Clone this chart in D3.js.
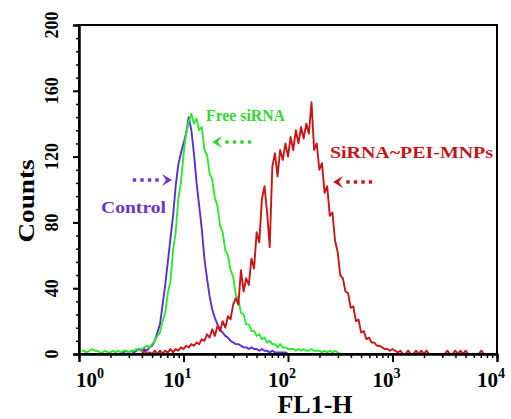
<!DOCTYPE html>
<html>
<head>
<meta charset="utf-8">
<script src="https://cdn.jsdelivr.net/npm/d3@7"></script>
<style>
  body { margin: 0; background: #fff; }
  svg text { font-family: "Liberation Serif", "Times New Roman", serif; font-weight: bold; }
</style>
</head>
<body>
<div id="chart"></div>
<script>
// histogram channels: bin i sits at 10^(i / binsPerDecade)
const binsPerDecade = 40;

// Control (purple)
const controlStart = 16;
const controlCounts = [1, 1, 2, 1, 2, 1, 2, 3, 2, 3, 2, 4, 5, 8, 13, 18, 30, 42, 56, 70,
  84, 102, 115, 122, 128, 134, 144, 136, 122, 104, 90, 76, 58, 46, 35, 27, 22, 18, 15, 13,
  11, 10, 8, 7, 6, 6, 5, 4, 4, 3, 4, 3, 3, 2, 3, 2, 2, 1, 2, 1, 1, 1, 1, 1, 0];

// Free siRNA (green)
const freeStart = 1;
const freeCounts = [2, 2, 1, 2, 3, 2, 2, 1, 1, 2, 1, 1, 2, 1, 2, 1, 2, 2, 1, 2,
  2, 3, 2, 3, 4, 5, 4, 6, 8, 11, 13, 20, 25, 37, 44, 63, 74, 94, 104, 121,
  134, 141, 146, 140, 143, 136, 138, 124, 121, 110, 106, 95, 90, 78, 74, 63, 60, 51, 47, 36,
  33, 25, 24, 18, 18, 14, 14, 11, 12, 9, 10, 7, 8, 6, 6, 4, 6, 4, 4, 3,
  3, 3, 2, 3, 2, 3, 2, 2, 3, 2, 2, 2, 1, 2, 1, 2, 1, 2, 1, 0];

// SiRNA~PEI-MNPs (red)
const mnpStart = 24;
const mnpCounts = [0, 2, 0, 1, 0, 2, 0, 2, 0, 2, 1, 3, 1, 3, 2, 4, 3, 5, 4, 6,
  5, 7, 6, 9, 8, 12, 10, 15, 11, 17, 14, 20, 16, 23, 21, 30, 34, 30, 51, 38,
  46, 42, 58, 52, 74, 68, 94, 102, 86, 65, 114, 122, 108, 124, 118, 128, 120, 132, 124, 136,
  128, 138, 131, 140, 134, 153, 124, 128, 112, 116, 98, 102, 84, 86, 69, 62, 48, 46, 38, 37,
  28, 29, 20, 21, 13, 14, 9, 10, 7, 7, 5, 5, 4, 3, 3, 2, 3, 2, 1, 2,
  0, 0, 2, 0, 0, 2, 0, 2, 0, 2, 0, 0, 0, 0, 0, 0, 0, 2, 0, 0,
  2, 0, 2, 0, 2, 0, 0, 0, 0, 0, 2, 0];

// axis ticks
const xMajor = [1, 10, 100, 1000, 10000];
const xLabels = ["0", "1", "2", "3", "4"];
const yMajor = [0, 40, 80, 120, 160, 200];
const yMinorStep = 8;

const series = [
  { name: "Control", start: controlStart, counts: controlCounts, color: "#5a2ed2" },
  { name: "Free siRNA", start: freeStart, counts: freeCounts, color: "#2ee82e" },
  { name: "SiRNA~PEI-MNPs", start: mnpStart, counts: mnpCounts, color: "#cc1414" }
];

const W = 511, H = 419;
const margin = { top: 25, right: 14, bottom: 65, left: 79 };
const width = W - margin.left - margin.right;
const height = H - margin.top - margin.bottom;

const svg = d3.select("#chart").append("svg")
  .attr("width", W)
  .attr("height", H);

const g = svg.append("g")
  .attr("transform", `translate(${margin.left},${margin.top})`);

const x = d3.scaleLog().domain([1, 10000]).range([0, width]);
const y = d3.scaleLinear().domain([0, 200]).range([height, 0]);

// histogram curves
const line = d3.line()
  .x(d => x(d[0]))
  .y(d => y(d[1]));

series.forEach(s => {
  const pts = s.counts.map((c, i) => [Math.pow(10, (s.start + i) / binsPerDecade), c]);
  g.append("path")
    .datum(pts)
    .attr("fill", "none")
    .attr("stroke", s.color)
    .attr("stroke-width", 1.9)
    .attr("stroke-linejoin", "round")
    .attr("d", line);
});

// frame
g.append("rect")
  .attr("width", width)
  .attr("height", height)
  .attr("fill", "none")
  .attr("stroke", "#000")
  .attr("stroke-width", 2);

// x axis ticks
let xMinor = [];
[1, 10, 100, 1000].forEach(dec => { for (let k = 2; k <= 9; k++) xMinor.push(dec * k); });

g.append("g")
  .attr("transform", `translate(0,${height})`)
  .call(d3.axisBottom(x).tickValues(xMinor).tickSize(4).tickFormat(""))
  .call(a => a.selectAll("line").attr("stroke-width", 1.5));
g.append("g")
  .attr("transform", `translate(0,${height})`)
  .call(d3.axisBottom(x).tickValues(xMajor).tickSize(8).tickFormat(""))
  .call(a => a.selectAll("line").attr("stroke-width", 2));

// y axis ticks
g.append("g")
  .call(d3.axisLeft(y).tickValues(d3.range(0, 201, yMinorStep)).tickSize(3).tickFormat(""))
  .call(a => a.selectAll("line").attr("stroke-width", 1.5));
g.append("g")
  .call(d3.axisLeft(y).tickValues(yMajor).tickSize(6).tickFormat(""))
  .call(a => a.selectAll("line").attr("stroke-width", 2));
g.selectAll(".domain").attr("stroke-width", 2);

// x tick labels: "10" ends at the tick, exponent after it
xMajor.forEach((v, i) => {
  const t = g.append("text")
    .attr("y", height + 33)
    .style("font-size", "21px")
    .attr("fill", "#000");
  t.append("tspan").text("10");
  t.append("tspan").text(xLabels[i])
    .attr("dy", -9)
    .style("font-size", "14px");
  const w10 = t.select("tspan").node().getComputedTextLength();
  t.attr("x", i === 0 ? x(v) - 3 : x(v) - w10 + 1);
});

// y tick labels (rotated)
yMajor.forEach(v => {
  g.append("text")
    .attr("transform", `translate(-21,${y(v)}) rotate(-90)`)
    .attr("text-anchor", "middle")
    .style("font-size", "18px")
    .attr("fill", "#000")
    .text(v);
});

// axis titles
svg.append("text")
  .attr("x", 315)
  .attr("y", 413)
  .attr("text-anchor", "middle")
  .style("font-size", "26px")
  .attr("fill", "#000")
  .text("FL1-H");

svg.append("text")
  .attr("transform", "translate(34,201) rotate(-90)")
  .attr("text-anchor", "middle")
  .style("font-size", "23px")
  .attr("textLength", 83)
  .attr("lengthAdjust", "spacingAndGlyphs")
  .attr("fill", "#000")
  .text("Counts");

// annotations
const notes = [
  { text: "Free siRNA", color: "#33d633", tx: 206, ty: 121, size: 16, len: 79, ax: 212, ay: 142, dir: -1 },
  { text: "Control", color: "#6a35cc", tx: 101, ty: 213, size: 17, len: 65, ax: 172, ay: 180, dir: 1 },
  { text: "SiRNA~PEI-MNPs", color: "#c0161c", tx: 330, ty: 158, size: 17, len: 163, ax: 333, ay: 182, dir: -1 }
];

notes.forEach(n => {
  svg.append("text")
    .attr("x", n.tx)
    .attr("y", n.ty)
    .style("font-size", n.size + "px")
    .attr("textLength", n.len)
    .attr("lengthAdjust", "spacingAndGlyphs")
    .attr("fill", n.color)
    .text(n.text);
  // arrow head
  const hx = n.ax, hy = n.ay, hl = 10 * n.dir;
  svg.append("path")
    .attr("d", `M${hx},${hy} L${hx - hl},${hy - 6} L${hx - hl * 0.6},${hy} L${hx - hl},${hy + 6} Z`)
    .attr("fill", n.color);
  // dotted tail
  for (let k = 0; k < 4; k++) {
    const cx = hx - n.dir * (15 + k * 7.5);
    svg.append("rect")
      .attr("x", cx - 1.7)
      .attr("y", hy - 1.7)
      .attr("width", 3.4)
      .attr("height", 3.4)
      .attr("fill", n.color);
  }
});
</script>
</body>
</html>
